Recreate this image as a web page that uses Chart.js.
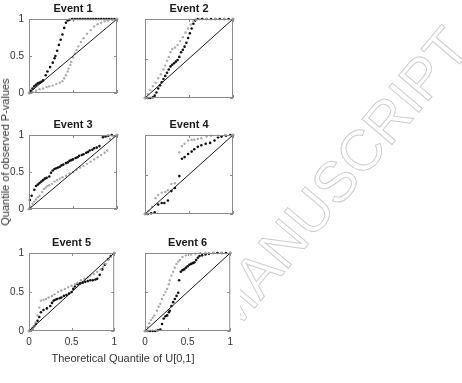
<!DOCTYPE html>
<html>
<head>
<meta charset="utf-8">
<script src="https://cdn.jsdelivr.net/npm/chart.js@4.4.0/dist/chart.umd.min.js"></script>
<style>
html,body{margin:0;padding:0;background:#fff;}
body{width:462px;height:383px;position:relative;overflow:hidden;font-family:"Liberation Sans",Arial,sans-serif;}
#mark{position:absolute;left:336px;top:180px;font-size:57px;color:transparent;-webkit-text-stroke:1px #cdcdcd;white-space:nowrap;transform:translate(-50%,-50%) rotate(-50deg);}
#fig{position:absolute;left:0;top:0;width:240px;height:366px;background:#fff;}
canvas{position:absolute;}
.lbl{position:absolute;font-size:11px;color:#333;white-space:nowrap;transform:translate(-50%,-50%);}
#ylab{transform:translate(-50%,-50%) rotate(-90deg);}
</style>
</head>
<body>
<div id="mark">MANUSCRIPT</div>
<div id="fig">
  <canvas id="c1" width="122" height="104" style="left:0;top:0"></canvas>
  <canvas id="c2" width="116" height="104" style="left:122px;top:0"></canvas>
  <canvas id="c3" width="122" height="104" style="left:0;top:116px"></canvas>
  <canvas id="c4" width="116" height="104" style="left:122px;top:116px"></canvas>
  <canvas id="c5" width="122" height="120" style="left:0;top:234px"></canvas>
  <canvas id="c6" width="116" height="120" style="left:122px;top:234px"></canvas>
  <div class="lbl" id="ylab" style="left:5px;top:152px">Quantile of observed P-values</div>
  <div class="lbl" id="xlab" style="left:123px;top:358px">Theoretical Quantile of U[0,1]</div>
</div>
<script>
// QQ points [theoretical quantile, observed quantile]
const event1Black=[[0,0],[0.02,0.03],[0.04,0.06],[0.06,0.09],[0.08,0.11],[0.10,0.13],[0.12,0.14],[0.14,0.15],[0.16,0.17],[0.19,0.24],[0.21,0.29],[0.24,0.35],[0.27,0.41],[0.29,0.47],[0.30,0.50],[0.32,0.57],[0.34,0.65],[0.36,0.72],[0.38,0.79],[0.40,0.88],[0.42,0.95],[0.44,0.98],[0.46,0.99],[0.49,1],[0.52,1],[0.55,1],[0.58,1],[0.61,1],[0.64,1],[0.67,1],[0.70,1],[0.73,1],[0.76,1],[0.79,1],[0.82,1],[0.85,1],[0.88,1],[0.91,1],[0.94,1],[0.97,1],[1,1]];
const event1Gray=[[0,0],[0.04,0.01],[0.08,0.03],[0.12,0.05],[0.16,0.06],[0.20,0.08],[0.23,0.09],[0.27,0.10],[0.31,0.12],[0.35,0.14],[0.38,0.16],[0.40,0.20],[0.42,0.24],[0.44,0.29],[0.45,0.33],[0.47,0.38],[0.48,0.42],[0.50,0.48],[0.52,0.53],[0.54,0.58],[0.56,0.63],[0.59,0.69],[0.62,0.74],[0.66,0.80],[0.70,0.85],[0.74,0.90],[0.78,0.93],[0.82,0.95],[0.86,0.97],[0.90,0.98],[0.95,0.99],[1,1]];
const event2Black=[[0,0],[0.03,0],[0.06,0],[0.09,0.01],[0.11,0.03],[0.13,0.07],[0.15,0.12],[0.17,0.16],[0.19,0.20],[0.21,0.24],[0.23,0.28],[0.25,0.32],[0.27,0.36],[0.29,0.40],[0.31,0.42],[0.33,0.44],[0.35,0.46],[0.37,0.48],[0.39,0.52],[0.41,0.58],[0.43,0.61],[0.45,0.65],[0.47,0.70],[0.49,0.76],[0.51,0.82],[0.53,0.88],[0.55,0.94],[0.57,0.98],[0.60,1],[0.65,1],[0.70,1],[0.75,1],[0.80,1],[0.85,1],[0.90,1],[0.95,1],[1,1]];
const event2Gray=[[0,0],[0.03,0.05],[0.06,0.10],[0.09,0.15],[0.12,0.19],[0.15,0.25],[0.18,0.30],[0.21,0.36],[0.23,0.41],[0.25,0.47],[0.27,0.52],[0.29,0.58],[0.31,0.62],[0.34,0.64],[0.37,0.67],[0.40,0.72],[0.43,0.77],[0.46,0.83],[0.49,0.88],[0.52,0.93],[0.55,0.97],[0.58,0.99],[0.62,1],[0.70,1],[0.80,1],[0.90,1],[1,1]];
const event3Black=[[0,0],[0.01,0.12],[0.03,0.18],[0.06,0.26],[0.08,0.31],[0.10,0.33],[0.12,0.35],[0.14,0.37],[0.16,0.39],[0.18,0.41],[0.20,0.42],[0.23,0.44],[0.25,0.49],[0.27,0.52],[0.29,0.54],[0.31,0.55],[0.33,0.56],[0.35,0.57],[0.37,0.59],[0.39,0.60],[0.42,0.62],[0.44,0.63],[0.46,0.65],[0.48,0.66],[0.50,0.67],[0.53,0.69],[0.55,0.70],[0.57,0.72],[0.60,0.73],[0.62,0.74],[0.65,0.76],[0.67,0.77],[0.69,0.79],[0.72,0.80],[0.74,0.82],[0.77,0.83],[0.80,0.85],[0.84,0.97],[0.87,0.98],[0.90,0.99],[0.94,1],[1,1]];
const event3Gray=[[0,0],[0.02,0.03],[0.04,0.07],[0.06,0.10],[0.08,0.13],[0.10,0.16],[0.12,0.18],[0.15,0.23],[0.17,0.27],[0.19,0.29],[0.21,0.31],[0.23,0.32],[0.26,0.34],[0.29,0.37],[0.32,0.39],[0.35,0.41],[0.38,0.43],[0.42,0.45],[0.46,0.48],[0.50,0.50],[0.54,0.53],[0.58,0.56],[0.62,0.58],[0.66,0.61],[0.70,0.64],[0.74,0.67],[0.78,0.70],[0.82,0.73],[0.86,0.76],[0.89,0.79],[0.92,0.95],[0.96,0.98],[1,1]];
const event4Black=[[0,0],[0.03,0],[0.07,0.01],[0.11,0.02],[0.15,0.12],[0.19,0.14],[0.22,0.14],[0.26,0.17],[0.30,0.29],[0.34,0.33],[0.39,0.48],[0.42,0.70],[0.45,0.72],[0.49,0.76],[0.53,0.79],[0.56,0.82],[0.60,0.85],[0.64,0.87],[0.69,0.89],[0.74,0.90],[0.79,0.93],[0.83,0.97],[0.87,0.98],[0.92,0.99],[0.97,1],[1,1]];
const event4Gray=[[0,0],[0.04,0.04],[0.08,0.09],[0.12,0.20],[0.15,0.24],[0.19,0.27],[0.23,0.28],[0.26,0.30],[0.30,0.38],[0.34,0.39],[0.39,0.78],[0.42,0.86],[0.45,0.89],[0.49,0.93],[0.53,0.94],[0.56,0.94],[0.60,0.95],[0.64,0.96],[0.70,0.98],[0.75,0.99],[0.83,0.99],[0.91,1],[1,1]];
const event5Black=[[0,0],[0.02,0.01],[0.04,0.03],[0.06,0.06],[0.08,0.09],[0.10,0.13],[0.12,0.18],[0.14,0.24],[0.17,0.27],[0.21,0.29],[0.25,0.32],[0.27,0.36],[0.29,0.39],[0.31,0.40],[0.33,0.41],[0.36,0.42],[0.38,0.43],[0.41,0.45],[0.44,0.46],[0.47,0.48],[0.50,0.50],[0.52,0.54],[0.54,0.57],[0.57,0.60],[0.60,0.61],[0.63,0.62],[0.66,0.63],[0.69,0.64],[0.72,0.65],[0.75,0.65],[0.78,0.66],[0.80,0.67],[0.83,0.72],[0.86,0.79],[0.89,0.85],[0.93,0.92],[0.96,0.96],[1,1]];
const event5Gray=[[0,0],[0.02,0.01],[0.04,0.03],[0.06,0.06],[0.08,0.11],[0.10,0.20],[0.12,0.30],[0.14,0.39],[0.17,0.40],[0.20,0.41],[0.23,0.43],[0.27,0.45],[0.30,0.47],[0.34,0.50],[0.38,0.52],[0.42,0.54],[0.46,0.56],[0.50,0.58],[0.54,0.60],[0.57,0.62],[0.61,0.65],[0.65,0.67],[0.69,0.69],[0.72,0.71],[0.76,0.73],[0.80,0.76],[0.84,0.79],[0.87,0.82],[0.90,0.86],[0.93,0.91],[0.96,0.95],[1,1]];
const event6Black=[[0,0],[0.03,0],[0.06,0],[0.09,0],[0.12,0],[0.15,0.01],[0.18,0.02],[0.20,0.09],[0.22,0.16],[0.24,0.19],[0.26,0.20],[0.28,0.24],[0.29,0.26],[0.31,0.32],[0.33,0.37],[0.35,0.41],[0.37,0.45],[0.39,0.49],[0.40,0.65],[0.42,0.76],[0.44,0.78],[0.46,0.79],[0.48,0.81],[0.50,0.83],[0.52,0.85],[0.54,0.86],[0.56,0.87],[0.58,0.88],[0.60,0.91],[0.62,0.94],[0.64,0.96],[0.67,0.97],[0.71,0.98],[0.75,0.99],[0.80,1],[0.85,1],[0.90,1],[0.95,1],[1,1]];
const event6Gray=[[0,0],[0.03,0.05],[0.05,0.10],[0.07,0.14],[0.09,0.17],[0.11,0.20],[0.14,0.26],[0.16,0.31],[0.18,0.35],[0.20,0.41],[0.22,0.46],[0.24,0.50],[0.26,0.54],[0.28,0.60],[0.29,0.65],[0.31,0.71],[0.33,0.76],[0.35,0.81],[0.37,0.86],[0.39,0.89],[0.41,0.91],[0.44,0.95],[0.48,0.97],[0.54,0.98],[0.59,0.99],[0.65,1],[0.71,1],[0.80,1],[0.90,1],[1,1]];
const refLine=[[0,0],[1,1]];
const tickValues=[0,0.5,1];
const tickLabels=['0','0.5','1'];

const FONT='"Liberation Sans", Arial, sans-serif';

const panels=[
  {id:'c1',title:'Event 1',black:event1Black,gray:event1Gray,yW:29,xH:6,yLab:true,xLab:false},
  {id:'c2',title:'Event 2',black:event2Black,gray:event2Gray,yW:23,xH:6,yLab:false,xLab:false},
  {id:'c3',title:'Event 3',black:event3Black,gray:event3Gray,yW:29,xH:6,yLab:true,xLab:false},
  {id:'c4',title:'Event 4',black:event4Black,gray:event4Gray,yW:23,xH:6,yLab:false,xLab:false},
  {id:'c5',title:'Event 5',black:event5Black,gray:event5Gray,yW:29,xH:23,yLab:true,xLab:true},
  {id:'c6',title:'Event 6',black:event6Black,gray:event6Gray,yW:23,xH:23,yLab:false,xLab:true}
];

// box, inward tick marks and panel title, matlab style
const framePlugin={
  id:'frame',
  afterDatasetsDraw(chart,args,opts){
    const {ctx,chartArea:a,scales:{x,y}}=chart;
    ctx.save();
    ctx.strokeStyle='#8a8a8a';ctx.lineWidth=1;
    ctx.strokeRect(a.left+0.5,a.top+0.5,a.right-a.left-1,a.bottom-a.top-1);
    ctx.beginPath();
    x.ticks.forEach(t=>{
      const px=Math.round(x.getPixelForValue(t.value))+0.5;
      ctx.moveTo(px,a.bottom);ctx.lineTo(px,a.bottom-3);
      ctx.moveTo(px,a.top);ctx.lineTo(px,a.top+3);
    });
    y.ticks.forEach(t=>{
      const py=Math.round(y.getPixelForValue(t.value))+0.5;
      ctx.moveTo(a.left,py);ctx.lineTo(a.left+3,py);
      ctx.moveTo(a.right,py);ctx.lineTo(a.right-3,py);
    });
    ctx.stroke();
    ctx.fillStyle='#1a1a1a';
    ctx.font='bold 11px '+FONT;
    ctx.textAlign='center';ctx.textBaseline='middle';
    ctx.fillText(opts.title,(a.left+a.right)/2,a.top-10);
    ctx.restore();
  }
};

const toXY=arr=>arr.map(p=>({x:p[0],y:p[1]}));
const tickLabel=v=>tickLabels[tickValues.indexOf(v)];

panels.forEach(p=>{
  new Chart(document.getElementById(p.id),{
    type:'scatter',
    data:{datasets:[
      {type:'line',data:toXY(refLine),borderColor:'#1a1a1a',borderWidth:1,pointRadius:0,fill:false},
      {data:toXY(p.gray),backgroundColor:'#ababab',borderWidth:0,pointRadius:1.2,clip:false},
      {data:toXY(p.black),backgroundColor:'#111',borderWidth:0,pointRadius:1.3,clip:false}
    ]},
    plugins:[framePlugin],
    options:{
      responsive:false,animation:false,devicePixelRatio:1,
      layout:{padding:{top:19,right:5,left:0,bottom:0}},
      plugins:{legend:{display:false},tooltip:{enabled:false},frame:{title:p.title}},
      scales:{
        x:{type:'linear',min:0,max:1,
          afterBuildTicks:s=>{s.ticks=tickValues.map(v=>({value:v}));},
          afterFit:s=>{s.height=p.xH;},
          grid:{display:false,drawTicks:false},border:{display:false},
          ticks:{display:p.xLab,padding:5,color:'#333',font:{family:FONT,size:10},maxRotation:0,callback:tickLabel}},
        y:{type:'linear',min:0,max:1,
          afterBuildTicks:s=>{s.ticks=tickValues.map(v=>({value:v}));},
          afterFit:s=>{s.width=p.yW;},
          grid:{display:false,drawTicks:false},border:{display:false},
          ticks:{display:p.yLab,padding:5,color:'#333',font:{family:FONT,size:10},callback:tickLabel}}
      }
    }
  });
});
</script>
</body>
</html>
